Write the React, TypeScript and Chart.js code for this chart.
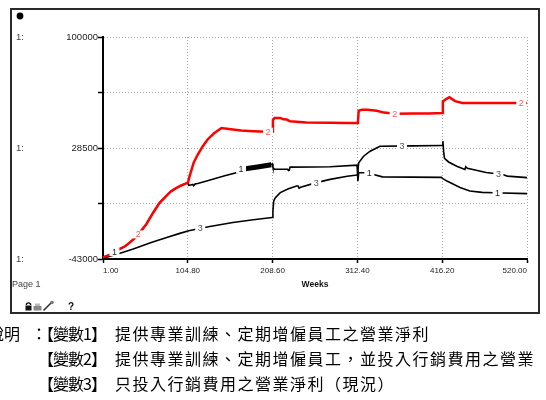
import React, { useEffect, useRef } from "react";
import { Chart, registerables } from "chart.js";

Chart.register(...registerables);

// ---- axis ticks ----
const xTickValues = [1, 104.8, 208.6, 312.4, 416.2, 520];
const yTickValues = [-43000, -7250, 28500, 64250, 100000];
const yLabelledTicks = [-43000, 28500, 100000];
const xAxisTitle = "Weeks";

// ---- series data (weeks, value) ----
// weeks 1..105: variants 1 and 2 run together
const sharedEarlyWeeks = [1, 10, 20, 28, 34, 40, 46, 54, 62, 70, 78, 84, 90, 96, 102, 105];
const sharedEarlyValues = [-41900, -40200, -37000, -34800, -32300, -29600, -26000, -20600, -13500, -7000, -2600, 500, 2500, 4200, 5500, 6200];

const s2Weeks = [
  ...sharedEarlyWeeks,
  107, 112, 117, 123, 129, 137, 146, 155, 170, 185, 202, 208, 209, 211, 218, 222, 226,
  230, 250, 279, 300, 313, 314, 318, 325, 336, 345, 358, 380, 400, 416, 417, 421, 425, 432, 441, 470, 500, 520,
];
const s2Values = [
  ...sharedEarlyValues,
  10400, 19000, 24300, 29500, 34000, 38000, 41400, 40800, 39700, 39300, 38900, 39200, 46500, 47900, 47900, 47000, 46800,
  45700, 45000, 44700, 44600, 44600, 52500, 53200, 53200, 52500, 51300, 50600, 50800, 50800, 51000, 58500, 60000, 61200, 58700, 57500, 57500, 57500, 57500,
];

const s1Weeks = [
  ...sharedEarlyWeeks,
  106, 111, 112, 114, 117, 130, 150, 165, 166, 171, 190, 207, 208, 209, 211, 227, 228, 229, 230, 260, 279,
  312, 313, 314, 327, 331, 343, 415, 417, 422, 438, 450, 465, 479, 520,
];
const s1Values = [
  ...sharedEarlyValues,
  4400, 5000, 4200, 5400, 5600, 7600, 10600, 12700, 14300, 14800, 16300, 17700, 18300, 16000, 14800, 14800, 14000, 14200, 16200, 16300, 16450,
  17470, 7200, 12600, 12600, 11600, 9900, 9600, 8800, 7200, 3000, 800, -100, -300, -870,
];
// jagged (thick) stretch of variant 1
const s1BandFrom = 171;
const s1BandTo = 207;

const s3Weeks = [
  1, 20, 38, 60, 79, 95, 106, 130, 160, 185, 208, 209, 210, 212, 218, 228, 238, 240, 241, 243, 262, 279, 300,
  312, 313, 314, 320, 328, 340, 380, 416, 417, 418, 419, 424, 434, 444, 445, 447, 470, 490, 496, 520,
];
const s3Values = [
  -42550, -39600, -36590, -32400, -29085, -26500, -24850, -22200, -19466, -17700, -16260, -12000, -5500, -3500, -230, 2300, 4000, 4000, 2600, 3200, 6200, 8300, 10300,
  11060, 14000, 19000, 23200, 26450, 29650, 29900, 30100, 32900, 26000, 21800, 19500, 16800, 14700, 16400, 15400, 12700, 11400, 10400, 9400,
];

// where the series number tags sit (weeks)
const s1LabelWeeks = [15, 170, 327, 484];
const s2LabelWeeks = [44, 203, 358, 513];
const s3LabelWeeks = [120, 262, 367, 485];

const seriesNames = ["1", "2", "3"];
const noteLines = [
  { prefix: "【變數1】", body: "提供專業訓練、定期增僱員工之營業淨利" },
  { prefix: "【變數2】", body: "提供專業訓練、定期增僱員工，並投入行銷費用之營業" },
  { prefix: "【變數3】", body: "只投入行銷費用之營業淨利（現況）" },
];

const FONT = "'Liberation Sans', Arial, sans-serif";

function toPoints(ws: number[], vs: number[]) {
  return ws.map((w, i) => ({ x: w, y: vs[i] }));
}

function interp(ws: number[], vs: number[], w: number) {
  for (let i = 0; i < ws.length - 1; i++) {
    if (w >= ws[i] && w <= ws[i + 1]) {
      const t = (w - ws[i]) / (ws[i + 1] - ws[i] || 1);
      return vs[i] + t * (vs[i + 1] - vs[i]);
    }
  }
  return vs[vs.length - 1];
}

const tagPlugin = {
  id: "tags",
  afterDatasetsDraw(chart: any) {
    const { ctx, scales } = chart;
    const xs = scales.x;
    const ys = scales.y;
    const groups = [
      { name: seriesNames[0], ws: s1Weeks, vs: s1Values, at: s1LabelWeeks, color: "#222" },
      { name: seriesNames[1], ws: s2Weeks, vs: s2Values, at: s2LabelWeeks, color: "#ff5a5a" },
      { name: seriesNames[2], ws: s3Weeks, vs: s3Values, at: s3LabelWeeks, color: "#555" },
    ];
    ctx.save();
    ctx.font = `9px ${FONT}`;
    ctx.textAlign = "center";
    ctx.textBaseline = "middle";
    for (const g of groups) {
      for (const w of g.at) {
        const px = xs.getPixelForValue(w);
        const py = ys.getPixelForValue(interp(g.ws, g.vs, w));
        ctx.fillStyle = "#fff";
        ctx.fillRect(px - 5, py - 4, 10, 8);
        ctx.fillStyle = g.color;
        ctx.fillText(g.name, px, py + 0.5);
      }
    }
    ctx.restore();
  },
};

const framePlugin = {
  id: "frame",
  afterDraw(chart: any) {
    const { ctx, scales, chartArea } = chart;
    const ys = scales.y;
    ctx.save();
    // outer frame
    ctx.strokeStyle = "#2a2a2a";
    ctx.lineWidth = 2;
    ctx.strokeRect(11, 9, 528, 304);
    // pin dot
    ctx.fillStyle = "#000";
    ctx.beginPath();
    ctx.arc(20, 16, 3.4, 0, Math.PI * 2);
    ctx.fill();
    // "1:" labels
    ctx.font = `9.5px ${FONT}`;
    ctx.fillStyle = "#444";
    ctx.textAlign = "left";
    ctx.textBaseline = "middle";
    for (const v of yLabelledTicks) {
      ctx.fillText("1:", 16, ys.getPixelForValue(v));
    }
    // axis title
    ctx.font = `bold 8.5px ${FONT}`;
    ctx.fillStyle = "#111";
    ctx.textAlign = "center";
    ctx.fillText(xAxisTitle, (chartArea.left + chartArea.right) / 2, 285);
    // page label
    ctx.font = `9px ${FONT}`;
    ctx.fillStyle = "#444";
    ctx.textAlign = "left";
    ctx.fillText("Page 1", 12, 285);
    // small toolbar icons
    ctx.fillStyle = "#111";
    ctx.strokeStyle = "#111";
    ctx.lineWidth = 1.3;
    ctx.beginPath();
    ctx.arc(28.5, 305, 2.2, Math.PI, 0);
    ctx.stroke();
    ctx.fillRect(25.5, 305.5, 6, 5);
    ctx.fillStyle = "#888";
    ctx.fillRect(33.5, 306, 8, 4.5);
    ctx.fillStyle = "#bbb";
    ctx.fillRect(35, 303.5, 5, 2.5);
    ctx.strokeStyle = "#333";
    ctx.lineWidth = 1.6;
    ctx.beginPath();
    ctx.moveTo(43.5, 310.5);
    ctx.lineTo(51, 303);
    ctx.stroke();
    ctx.fillStyle = "#777";
    ctx.beginPath();
    ctx.arc(52, 302.5, 1.8, 0, Math.PI * 2);
    ctx.fill();
    ctx.font = `bold 10px ${FONT}`;
    ctx.fillStyle = "#111";
    ctx.textBaseline = "middle";
    ctx.fillText("?", 68, 307);
    ctx.restore();
  },
};

export default function App() {
  const canvasRef = useRef<HTMLCanvasElement | null>(null);

  useEffect(() => {
    const canvas = canvasRef.current;
    if (!canvas) return;
    Chart.defaults.font.family = FONT;
    const gridCommon = {
      color: "#a8a8a8",
      lineWidth: 1,
      tickColor: "#000",
      tickWidth: 1.5,
      tickBorderDash: [],
    };
    const chart = new Chart(canvas, {
      type: "line",
      data: {
        datasets: [
          {
            label: "2",
            data: toPoints(s2Weeks, s2Values),
            borderColor: "#ff0000",
            borderWidth: 2.5,
            pointRadius: 0,
            tension: 0,
          },
          {
            label: "1",
            data: toPoints(s1Weeks, s1Values),
            borderColor: "#000",
            borderWidth: 1.6,
            pointRadius: 0,
            tension: 0,
            segment: {
              borderWidth: (c: any) =>
                c.p0.parsed.x >= s1BandFrom && c.p1.parsed.x <= s1BandTo ? 5 : 1.6,
            },
          },
          {
            label: "3",
            data: toPoints(s3Weeks, s3Values),
            borderColor: "#000",
            borderWidth: 1.6,
            pointRadius: 0,
            tension: 0,
          },
        ],
      },
      options: {
        responsive: false,
        animation: false,
        devicePixelRatio: 1,
        layout: { padding: { left: 0, right: 19, top: 37, bottom: 111 } },
        plugins: {
          legend: { display: false },
          tooltip: { enabled: false },
        },
        scales: {
          x: {
            type: "linear",
            min: 1,
            max: 520,
            afterBuildTicks: (s: any) => {
              s.ticks = xTickValues.map((v) => ({ value: v }));
            },
            afterFit: (s: any) => {
              s.height = 30;
            },
            ticks: {
              autoSkip: false,
              maxRotation: 0,
              align: "inner",
              padding: 3,
              color: "#222",
              font: { size: 8, family: FONT },
              callback: (v: any) => Number(v).toFixed(2),
            },
            grid: { ...gridCommon, tickLength: 4 },
            border: { color: "#000", width: 2, dash: [1, 2] },
          },
          y: {
            type: "linear",
            min: -43000,
            max: 100000,
            afterBuildTicks: (s: any) => {
              s.ticks = yTickValues.map((v) => ({ value: v }));
            },
            afterFit: (s: any) => {
              s.width = 103;
            },
            ticks: {
              autoSkip: false,
              padding: 0,
              color: "#222",
              font: { size: 9.5, family: FONT },
              callback: (v: any) => (yLabelledTicks.includes(Number(v)) ? String(v) : ""),
            },
            grid: { ...gridCommon, tickLength: 5 },
            border: { color: "#000", width: 2, dash: [1, 2] },
          },
        },
      } as any,
      plugins: [tagPlugin, framePlugin],
    });
    return () => chart.destroy();
  }, []);

  const cjk = "'Noto Sans CJK TC', 'Noto Sans CJK SC', sans-serif";
  const lineTops = [325, 350, 375];
  const base: React.CSSProperties = {
    position: "absolute",
    fontFamily: cjk,
    fontSize: 16,
    lineHeight: "16px",
    whiteSpace: "nowrap",
    color: "#000",
  };

  return (
    <div
      style={{
        position: "fixed",
        left: 0,
        top: 0,
        width: 546,
        height: 400,
        background: "#fff",
        overflow: "hidden",
      }}
    >
      <canvas ref={canvasRef} width={546} height={400} style={{ display: "block" }} />
      <div style={{ ...base, left: -12, top: lineTops[0] }}>說明</div>
      <div style={{ ...base, left: 31, top: lineTops[0] }}>：</div>
      {noteLines.map((ln, i) => (
        <React.Fragment key={i}>
          <div style={{ ...base, left: 38, top: lineTops[i], letterSpacing: "-1px" }}>{ln.prefix}</div>
          <div style={{ ...base, left: 115, top: lineTops[i], letterSpacing: "1.5px" }}>{ln.body}</div>
        </React.Fragment>
      ))}
    </div>
  );
}
